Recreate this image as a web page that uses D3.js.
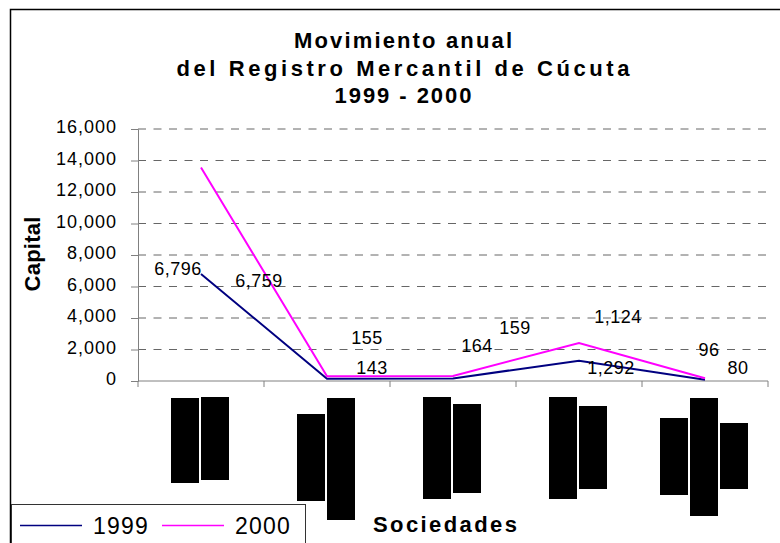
<!DOCTYPE html>
<html>
<head>
<meta charset="utf-8">
<script src="https://cdn.jsdelivr.net/npm/d3@7.9.0/dist/d3.min.js"></script>
<style>
  body { margin: 0; background: #fff; }
  svg { display: block; }
</style>
</head>
<body>
<div id="chart"></div>
<script>
// ---- data ----
const categories = ['c1', 'c2', 'c3', 'c4', 'c5'];
const seriesNames = ['1999', '2000'];
const values1999 = [6796, 143, 164, 1292, 80];
const values2000 = [6759, 155, 159, 1124, 96];
const labels1999 = ['6,796', '143', '164', '1,292', '80'];
const labels2000 = ['6,759', '155', '159', '1,124', '96'];
const yTicks = [0, 2000, 4000, 6000, 8000, 10000, 12000, 14000, 16000];
const titleLines = ['Movimiento anual', 'del Registro Mercantil de Cúcuta', '1999 - 2000'];

// ---- layout (label nudges and the blacked-out category labels) ----
const labelOffsets1999 = [[-23, 1], [45, -5], [24, -26], [32, 13], [33, -6]];
const labelOffsets2000 = [[58, 119], [40, -32], [62, -42], [39, -20], [4, -22]];
const catLabelSpans = [
    [[398, 483], [397, 480]],
    [[414, 501], [398, 520]],
    [[397, 499], [404, 493]],
    [[397, 499], [406, 489]],
    [[418, 495], [398, 516], [423, 489]]
];

const COLORS = { '1999': '#000080', '2000': '#ff00ff' };
const FONT = '"Liberation Sans", Arial, sans-serif';
const W = 780, H = 543;
const plot = { left: 138, right: 768, top: 129, bottom: 381 };

const svg = d3.select('#chart').append('svg')
    .attr('width', W).attr('height', H)
    .attr('font-family', FONT);

// outer frame (runs off the right and bottom)
svg.append('rect')
    .attr('x', 10.5).attr('y', 9.5)
    .attr('width', 820).attr('height', 600)
    .attr('fill', '#fff').attr('stroke', '#000').attr('stroke-width', 1.5);

const x = d3.scaleBand().domain(categories).range([plot.left, plot.right]);
const y = d3.scaleLinear().domain([0, 16000]).range([plot.bottom, plot.top]);

// stacked series
const rows = categories.map((c, i) => ({ cat: c, '1999': values1999[i], '2000': values2000[i] }));
const stacked = d3.stack().keys(seriesNames)(rows);

// title
svg.append('g').selectAll('text')
    .data(titleLines)
    .join('text')
    .attr('x', 403)
    .attr('y', (d, i) => [47.5, 75.5, 103][i])
    .attr('text-anchor', 'middle')
    .attr('font-size', '22px')
    .attr('font-weight', 'bold')
    .attr('textLength', (d, i) => [218, 453, 137][i])
    .attr('lengthAdjust', 'spacing')
    .text(d => d);

// grid
svg.append('g').selectAll('line')
    .data(yTicks.filter(d => d > 0))
    .join('line')
    .attr('x1', plot.left).attr('x2', plot.right)
    .attr('y1', d => y(d)).attr('y2', d => y(d))
    .attr('stroke', '#666')
    .attr('stroke-dasharray', '8,7.5');

// y axis
const yAxis = svg.append('g')
    .attr('transform', `translate(${plot.left},0)`)
    .call(d3.axisLeft(y).tickValues(yTicks).tickSize(7).tickPadding(14).tickFormat(d3.format(',')));
yAxis.select('.domain').attr('stroke', '#808080');
yAxis.selectAll('.tick line').attr('stroke', '#808080');
yAxis.selectAll('.tick text')
    .attr('font-size', '18px')
    .attr('font-family', FONT)
    .attr('letter-spacing', '1px')
    .attr('fill', '#000')
    .attr('dy', '0.22em');

// x axis: ticks on band boundaries
const bounds = categories.map(c => x(c)).concat([x(categories[categories.length - 1]) + x.bandwidth()]);
svg.append('line')
    .attr('x1', plot.left).attr('x2', plot.right)
    .attr('y1', plot.bottom).attr('y2', plot.bottom)
    .attr('stroke', '#808080');
svg.append('g').selectAll('line')
    .data(bounds)
    .join('line')
    .attr('x1', d => d).attr('x2', d => d)
    .attr('y1', plot.bottom).attr('y2', plot.bottom + 6)
    .attr('stroke', '#808080');

// category labels, blacked out as in the source
catLabelSpans.forEach((spans, ci) => {
    const cx = x(categories[ci]) + x.bandwidth() / 2;
    svg.append('g').selectAll('rect')
        .data(spans)
        .join('rect')
        .attr('x', (d, i) => cx + (i - (spans.length - 1) / 2) * 30 - 15)
        .attr('y', d => d[0])
        .attr('width', 28)
        .attr('height', d => d[1] - d[0])
        .attr('fill', '#000');
});

// lines
const line = d3.line()
    .x(d => x(d.data.cat) + x.bandwidth() / 2)
    .y(d => y(d[1]));

svg.append('g').selectAll('path')
    .data(stacked)
    .join('path')
    .attr('d', line)
    .attr('fill', 'none')
    .attr('stroke', d => COLORS[d.key])
    .attr('stroke-width', 2);

// data labels
const labelSets = [
    { series: stacked[0], texts: labels1999, offs: labelOffsets1999 },
    { series: stacked[1], texts: labels2000, offs: labelOffsets2000 }
];
labelSets.forEach(set => {
    svg.append('g').selectAll('text')
        .data(set.series)
        .join('text')
        .attr('x', (d, i) => x(d.data.cat) + x.bandwidth() / 2 + set.offs[i][0])
        .attr('y', (d, i) => y(d[1]) + set.offs[i][1])
        .attr('text-anchor', 'middle')
        .attr('font-size', '18px')
        .attr('letter-spacing', '0.5px')
        .text((d, i) => set.texts[i]);
});

// axis titles
svg.append('text')
    .attr('transform', 'translate(40,254) rotate(-90)')
    .attr('text-anchor', 'middle')
    .attr('font-size', '22px')
    .attr('font-weight', 'bold')
    .attr('textLength', 75)
    .attr('lengthAdjust', 'spacing')
    .text('Capital');

svg.append('text')
    .attr('x', 445).attr('y', 532)
    .attr('text-anchor', 'middle')
    .attr('font-size', '22px')
    .attr('font-weight', 'bold')
    .attr('textLength', 144)
    .attr('lengthAdjust', 'spacing')
    .text('Sociedades');

// legend
const legend = svg.append('g');
legend.append('rect')
    .attr('x', 11.5).attr('y', 504.5)
    .attr('width', 294).attr('height', 60)
    .attr('fill', '#fff').attr('stroke', '#333').attr('stroke-width', 1);
const legItems = legend.selectAll('g')
    .data(seriesNames)
    .join('g')
    .attr('transform', (d, i) => `translate(${20 + i * 142},525.5)`);
legItems.append('line')
    .attr('x1', 0).attr('x2', 62)
    .attr('stroke', d => COLORS[d])
    .attr('stroke-width', 1.5);
legItems.append('text')
    .attr('x', 73).attr('y', 8)
    .attr('font-size', '23px')
    .attr('letter-spacing', '1.2px')
    .text(d => d);
</script>
</body>
</html>
